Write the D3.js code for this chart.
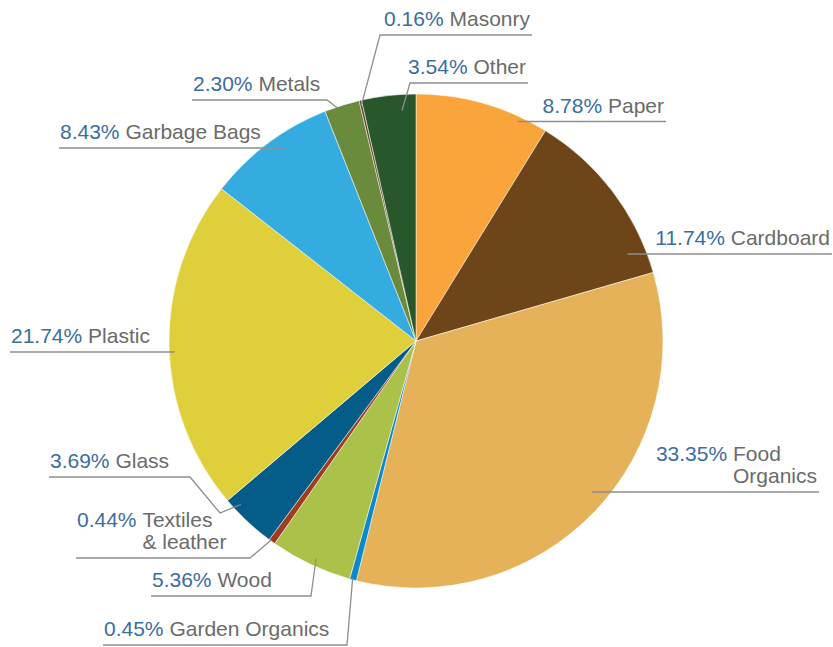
<!DOCTYPE html>
<html>
<head>
<meta charset="utf-8">
<script src="https://cdn.jsdelivr.net/npm/d3@7/dist/d3.min.js"></script>
<style>
  html, body { margin: 0; padding: 0; background: #fff; }
  svg { display: block; }
  .lbl { font-family: "Liberation Sans", Arial, Helvetica, sans-serif; font-size: 21px; }
</style>
</head>
<body>
<svg id="chart" width="833" height="647"></svg>
<script>
// Waste composition, clockwise from 12 o'clock
const categories = ["Paper", "Cardboard", "Food Organics", "Garden Organics", "Wood",
  "Textiles & leather", "Glass", "Plastic", "Garbage Bags", "Metals", "Masonry", "Other"];
const shares = [8.78, 11.74, 33.35, 0.45, 5.36, 0.44, 3.69, 21.74, 8.43, 2.30, 0.16, 3.54];
const colors = ["#F9A53C", "#6E4519", "#E5B25A", "#0E88C8", "#AAC14A", "#9E3D1D",
  "#045C88", "#DFCF3B", "#35ACE0", "#6A8A3C", "#6B4A2A", "#27572A"];

// Label placement: anchor inside slice (fraction along arc, fraction of radius),
// optional elbow points, then a horizontal underline at lineY ending at lineEnd.
const labelLayout = [
  { frac: 0.79, kr: 0.98, elbows: [], lineY: 121.5, lineEnd: 666 },
  { frac: 0.854, kr: 0.927, elbows: [], lineY: 254, lineEnd: 832 },
  { frac: 0.4725, kr: 0.94, elbows: [], lineY: 492, lineEnd: 819, wrap: true },
  { frac: 0.6, kr: 0.995, elbows: [[347, 645]], lineY: 645, lineEnd: 103 },
  { frac: 0.47, kr: 0.97, elbows: [[311, 596]], lineY: 596, lineEnd: 151 },
  { frac: 0.7, kr: 0.995, elbows: [[250, 558]], lineY: 558, lineEnd: 76, wrap: true },
  { frac: 0.79, kr: 0.97, elbows: [[220, 513], [190, 477]], lineY: 477, lineEnd: 49 },
  { frac: 0.48, kr: 0.98, elbows: [], lineY: 352, lineEnd: 10 },
  { frac: 0.57, kr: 0.95, elbows: [], lineY: 148, lineEnd: 59 },
  { frac: 0.36, kr: 0.995, elbows: [[327, 100]], lineY: 100, lineEnd: 192 },
  { frac: 0.5, kr: 0.98, elbows: [[380, 35]], lineY: 35, lineEnd: 532 },
  { frac: 0.727, kr: 0.935, elbows: [[410, 83]], lineY: 83, lineEnd: 528 }
];

const cx = 416, cy = 341, R = 247;
const pctColor = "#3A6E9F", nameColor = "#6B6B6B", leaderColor = "#8E8E8E";

const svg = d3.select("#chart");
const data = categories.map((c, i) => ({ name: c, value: shares[i], color: colors[i], layout: labelLayout[i] }));

const pie = d3.pie().sort(null).value(d => d.value);
const arc = d3.arc().innerRadius(0).outerRadius(R);
const arcs = pie(data);

const g = svg.append("g").attr("transform", `translate(${cx},${cy})`);
g.selectAll("path.slice")
  .data(arcs)
  .join("path")
  .attr("class", "slice")
  .attr("d", arc)
  .attr("fill", d => d.data.color)
  .attr("stroke", "#fff")
  .attr("stroke-width", 0.5);

const fmt = v => d3.format(".2f")(v) + "%";
const lineGen = d3.line();
const labels = svg.append("g");

arcs.forEach(a => {
  const L = a.data.layout;
  const ang = a.startAngle + L.frac * (a.endAngle - a.startAngle);
  const r = L.kr * R;
  const anchor = [cx + r * Math.sin(ang), cy - r * Math.cos(ang)];
  const pts = [anchor, ...L.elbows];
  const last = pts[pts.length - 1];
  if (Math.abs(last[1] - L.lineY) > 0.01) pts.push([last[0], L.lineY]);
  pts.push([L.lineEnd, L.lineY]);

  labels.append("path")
    .attr("d", lineGen(pts))
    .attr("fill", "none")
    .attr("stroke", leaderColor)
    .attr("stroke-width", 1.3);

  const leftSide = L.lineEnd < anchor[0];
  const nameLines = L.wrap
    ? [a.data.name.slice(0, a.data.name.indexOf(" ")), a.data.name.slice(a.data.name.indexOf(" ") + 1)]
    : [a.data.name];
  const lineH = 22;
  const baseLast = L.lineY - 9;
  const base0 = baseLast - (nameLines.length - 1) * lineH;

  const t = labels.append("text").attr("class", "lbl");
  const pctSpan = t.append("tspan").attr("fill", pctColor).text(fmt(a.data.value) + "\u00A0");
  const nameSpans = nameLines.map((n, k) =>
    t.append("tspan").attr("fill", nameColor).text(n));

  const pctW = pctSpan.node().getComputedTextLength();
  const nameW = d3.max(nameSpans, s => s.node().getComputedTextLength());
  let nameX;
  if (leftSide) nameX = L.lineEnd + 1 + pctW;
  else nameX = L.lineEnd - 2 - nameW;

  pctSpan.attr("x", nameX - pctW).attr("y", base0);
  nameSpans.forEach((s, k) => s.attr("x", nameX).attr("y", base0 + k * lineH));
});
</script>
</body>
</html>
